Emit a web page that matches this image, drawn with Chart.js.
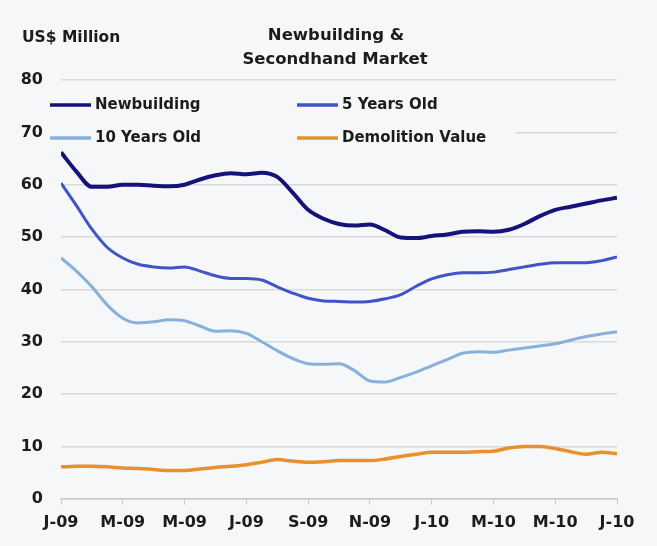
<!DOCTYPE html>
<html>
<head>
<meta charset="utf-8">
<script src="https://cdn.jsdelivr.net/npm/chart.js@4/dist/chart.umd.min.js"></script>
<style>
  html, body { margin: 0; padding: 0; background: #f5f7f8; }
  canvas { display: block; }
</style>
</head>
<body>
<canvas id="c" width="657" height="546"></canvas>
<script>
// Half-monthly observations, Jan 2009 to Jul 2010 (US$ million)
const months = [0, 0.5, 1, 1.5, 2, 2.5, 3, 3.5, 4, 4.5, 5, 5.5, 6, 6.5, 7, 7.5, 8, 8.5, 9, 9.5,
  10, 10.5, 11, 11.5, 12, 12.5, 13, 13.5, 14, 14.5, 15, 15.5, 16, 16.5, 17, 17.5, 18];

const newbuilding = [66.2, 62.5, 59.6, 59.6, 60.0, 60.0, 59.8, 59.7, 60.0, 61.0, 61.8, 62.2, 62.0, 62.3,
  61.5, 58.5, 55.2, 53.5, 52.5, 52.2, 52.4, 51.3, 49.9, 49.8, 50.2, 50.5, 51.0, 51.1, 51.0, 51.4,
  52.5, 54.0, 55.2, 55.8, 56.4, 57.0, 57.5];

const fiveYearsOld = [60.3, 56.0, 51.5, 48.0, 46.0, 44.8, 44.3, 44.1, 44.3, 43.5, 42.6, 42.1, 42.1, 41.8,
  40.5, 39.3, 38.3, 37.8, 37.7, 37.6, 37.7, 38.2, 39.0, 40.6, 42.0, 42.8, 43.2, 43.2, 43.3, 43.8,
  44.3, 44.8, 45.1, 45.1, 45.1, 45.5, 46.2];

const tenYearsOld = [46.0, 43.5, 40.5, 37.0, 34.5, 33.6, 33.8, 34.2, 34.0, 33.0, 32.0, 32.1, 31.6, 30.0,
  28.3, 26.8, 25.8, 25.7, 25.8, 24.5, 22.5, 22.3, 23.2, 24.2, 25.4, 26.6, 27.8, 28.1, 28.0, 28.4,
  28.8, 29.2, 29.6, 30.3, 31.0, 31.5, 31.9];

const demolitionValue = [6.1, 6.2, 6.2, 6.1, 5.9, 5.8, 5.6, 5.4, 5.4, 5.7, 6.0, 6.2, 6.5, 7.0,
  7.5, 7.2, 7.0, 7.1, 7.3, 7.3, 7.3, 7.6, 8.1, 8.5, 8.9, 8.9, 8.9, 9.0, 9.1, 9.7,
  10.0, 10.0, 9.6, 9.0, 8.5, 8.9, 8.6];

// One label every two months
const tickLabels = ["J-09", "M-09", "M-09", "J-09", "S-09", "N-09", "J-10", "M-10", "M-10", "J-10"];

const titleLines = ["Newbuilding &", "Secondhand Market"];
const unitLabel = "US$ Million";

const FONT = "'DejaVu Sans', sans-serif";
const TEXT = "#1c1c1c";
const BG = "#f5f7f8";

const toPoints = vals => vals.map((v, i) => ({ x: months[i], y: v }));

const series = [
  { label: "Newbuilding", data: newbuilding, color: "#15137a", width: 4 },
  { label: "5 Years Old", data: fiveYearsOld, color: "#4053c9", width: 3 },
  { label: "10 Years Old", data: tenYearsOld, color: "#88b0dc", width: 3 },
  { label: "Demolition Value", data: demolitionValue, color: "#e8902c", width: 3.5 }
];

// Title, unit label and a two-column legend box sitting in the top of the plot
const overlay = {
  id: "overlay",
  beforeDatasetsDraw(chart) {
    const ctx = chart.ctx;
    ctx.save();
    ctx.fillStyle = BG;
    ctx.fillRect(46, 90, 470, 60);
    const cols = [50, 297];
    const rows = [105, 138];
    chart.data.datasets.forEach((ds, i) => {
      const x = cols[i % 2];
      const y = rows[Math.floor(i / 2)];
      ctx.strokeStyle = ds.borderColor;
      ctx.lineWidth = 3.5;
      ctx.beginPath();
      ctx.moveTo(x, y);
      ctx.lineTo(x + 41, y);
      ctx.stroke();
      ctx.fillStyle = TEXT;
      ctx.font = "bold 15px " + FONT;
      ctx.textBaseline = "middle";
      ctx.textAlign = "left";
      ctx.fillText(ds.label, x + 45, y);
    });
    ctx.restore();
  },
  afterDraw(chart) {
    const ctx = chart.ctx;
    ctx.save();
    ctx.fillStyle = TEXT;
    ctx.textBaseline = "middle";
    ctx.font = "bold 15.5px " + FONT;
    ctx.textAlign = "left";
    ctx.fillText(unitLabel, 22, 38);
    ctx.font = "bold 16.5px " + FONT;
    ctx.textAlign = "center";
    ctx.fillText(titleLines[0], 336, 36);
    ctx.fillText(titleLines[1], 335, 60);
    ctx.restore();
  }
};

new Chart(document.getElementById("c"), {
  type: "line",
  data: {
    datasets: series.map(s => ({
      label: s.label,
      data: toPoints(s.data),
      borderColor: s.color,
      backgroundColor: s.color,
      borderWidth: s.width,
      pointRadius: 0,
      tension: 0.4,
      cubicInterpolationMode: "monotone",
      fill: false
    }))
  },
  options: {
    responsive: false,
    animation: false,
    layout: { padding: { left: 0, right: 40, top: 80, bottom: 6 } },
    plugins: {
      legend: { display: false },
      tooltip: { enabled: false },
      title: { display: false }
    },
    scales: {
      x: {
        type: "linear",
        min: 0,
        max: 18,
        grid: { display: true, drawOnChartArea: false, drawTicks: true, tickLength: 6, color: "#c9c9c9" },
        border: { display: true, color: "#c9c9c9", width: 1.5 },
        ticks: {
          stepSize: 2,
          padding: 8,
          color: TEXT,
          font: { family: FONT, size: 16, weight: "bold" },
          maxRotation: 0,
          callback: v => tickLabels[v / 2]
        }
      },
      y: {
        min: 0,
        max: 80,
        afterFit(scale) { scale.width = 61; },
        grid: { color: "#d9d9d6", lineWidth: 1.5, drawTicks: false },
        border: { display: false },
        ticks: {
          stepSize: 10,
          padding: 18,
          color: TEXT,
          font: { family: FONT, size: 16, weight: "bold" }
        }
      }
    }
  },
  plugins: [overlay]
});
</script>
</body>
</html>
